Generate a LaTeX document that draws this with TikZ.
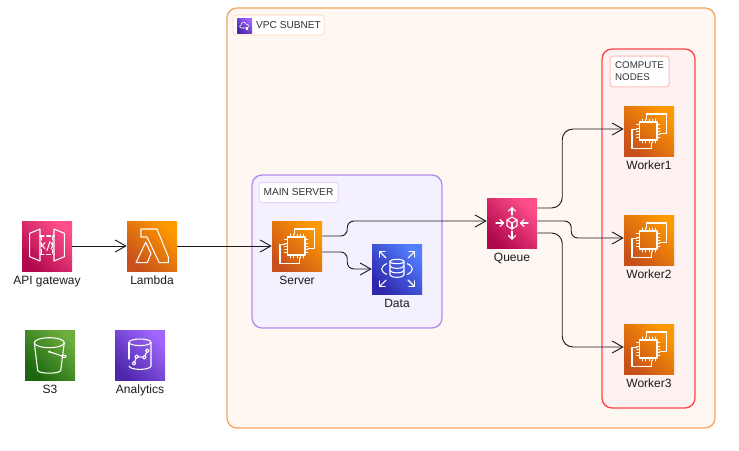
\documentclass[tikz,border=0pt]{standalone}
\usepackage{fontspec}
\setmainfont{Liberation Sans}
\usetikzlibrary{positioning,arrows.meta}

\definecolor{linecol}{HTML}{1A1A1A}
\definecolor{textcol}{HTML}{1A1A1A}
\definecolor{labelcol}{HTML}{333333}
\definecolor{orangelo}{HTML}{C8511B}
\definecolor{orangehi}{HTML}{FF9900}
\definecolor{pinklo}{HTML}{B0084D}
\definecolor{pinkhi}{HTML}{FF4F8B}
\definecolor{greenlo}{HTML}{1B660F}
\definecolor{greenhi}{HTML}{6CAE3E}
\definecolor{purplelo}{HTML}{4D27AA}
\definecolor{purplehi}{HTML}{A166FF}
\definecolor{bluelo}{HTML}{2E27AD}
\definecolor{bluehi}{HTML}{527FFF}
\definecolor{vpcline}{HTML}{F0A860}
\definecolor{vpcfill}{HTML}{FFF8F2}
\definecolor{vpclabel}{HTML}{FCE4CA}
\definecolor{mainline}{HTML}{B38CF0}
\definecolor{mainfill}{HTML}{F5F0FE}
\definecolor{mainlab}{HTML}{E2D4FA}
\definecolor{computeline}{HTML}{FF4646}
\definecolor{computefill}{HTML}{FDF1F1}
\definecolor{computelab}{HTML}{FFBEBE}

\tikzset{
  awsicon/.style={minimum size=37.5pt,inner sep=0pt,bottom color=#1lo,top color=#1hi,shading angle=-45},
  groupbox/.style={line width=1pt,rounded corners=7.5pt},
  iconlabel/.style={inner sep=0pt,text height=6.5pt,text depth=2pt,text=textcol,font=\fontsize{9}{10.5}\selectfont},
  grouplabel/.style={rounded corners=2pt,line width=.75pt,fill=white,text=labelcol,inner sep=0pt,font=\fontsize{7.6}{9}\selectfont},
  conn/.style={draw=linecol,line width=.7pt,-{Straight Barb[length=8pt,width=9pt,line width=.7pt]}},
  glyph/.style={draw=white,line width=.8pt,line join=round,line cap=round},
  chipglyph/.pic={
    \begin{scope}[shift={(-25,-25)},glyph]
    \draw (15.5,16) rectangle (33,34);
    \foreach \p in {18,21.5,25,28.5,31.5} {
      \draw[line width=.6pt] (\p,13) -- (\p,16);
      \draw[line width=.6pt] (\p,34) -- (\p,37);
    }
    \foreach \p in {18.5,22,25,28,31.5} {
      \draw[line width=.6pt] (12.5,\p) -- (15.5,\p);
      \draw[line width=.6pt] (33,\p) -- (36,\p);
    }
    \draw (22.7,13) -- (22.7,8) -- (42.3,8) -- (42.3,27.3) -- (36,27.3);
    \draw (13,23.3) -- (8,23.3) -- (8,42.3) -- (27.7,42.3) -- (27.7,37);
    \end{scope}
  },
  lambdaglyph/.pic={
    \begin{scope}[shift={(-25,-25)},glyph]
    \draw (14,8) -- (30,8) -- (41.3,36) -- (41.3,41.7) -- (32.3,41.7) -- (20,16) -- (14,16) -- cycle;
    \draw (9,41.7) -- (18.7,21.3) -- (24,32.5) -- (20.3,41.7) -- cycle;
    \end{scope}
  },
  apiglyph/.pic={
    \begin{scope}[shift={(-25,-25)},glyph]
    \draw (7.7,12.3) -- (18,8) -- (18,40) -- (7.7,35.7) -- cycle;
    \draw (42.3,12.3) -- (32,8) -- (32,40) -- (42.3,35.7) -- cycle;
    \draw[densely dashed] (18,15) -- (32,15);
    \draw[densely dashed] (18,33.3) -- (32,33.3);
    \draw[densely dashed] (19.5,15) -- (19.5,33.3);
    \draw[densely dashed] (30.5,15) -- (30.5,33.3);
    \draw (23,21.7) -- (20.3,24.7) -- (23,27.7);
    \draw (28,20.5) -- (25,29.5);
    \draw (29,21.7) -- (31,24.7) -- (29,27.7);
    \end{scope}
  },
  bucketglyph/.pic={
    \begin{scope}[shift={(-25,-25)},glyph]
    \draw (24.3,12.7) ellipse [x radius=15,y radius=5];
    \draw (9.3,12.7) -- (12.7,40.7) .. controls (15,44) and (33.4,44) .. (35.7,40.7) -- (39.3,12.7);
    \draw (24.3,21.7) -- (37,26);
    \fill[white] (24.3,21.7) circle (1.2);
    \draw (39,26.3) ellipse [x radius=2.2,y radius=1.2];
    \end{scope}
  },
  analyticsglyph/.pic={
    \begin{scope}[shift={(-25,-25)},glyph]
    \draw (25,12.3) ellipse [x radius=11,y radius=3.3];
    \draw (14,12.3) -- (14,29);
    \draw (14,36) .. controls (15,40.5) and (35,40.5) .. (36,36) -- (36,12.3);
    \draw (19,33.3) circle (1.8);
    \draw (21.7,26.7) circle (1.8);
    \draw (29.3,27.3) circle (1.8);
    \draw (32.3,20.7) circle (1.8);
    \draw (19.7,31.6) -- (21,28.4);
    \draw (23.5,26.8) -- (27.5,27.2);
    \draw (30,25.6) -- (31.6,22.4);
    \end{scope}
  },
  dataglyph/.pic={
    \begin{scope}[shift={(-25,-25)},glyph]
    \draw (25,17.5) ellipse [x radius=7,y radius=2.2];
    \draw (18,17.5) -- (18,31) .. controls (19,34.2) and (31,34.2) .. (32,31) -- (32,17.5);
    \draw (18,22) .. controls (19,25.2) and (31,25.2) .. (32,22);
    \draw (18,26.5) .. controls (19,29.7) and (31,29.7) .. (32,26.5);
    \draw (14.7,19.7) .. controls (8,22.5) and (8,27.5) .. (14.7,30.3);
    \draw (35.3,19.7) .. controls (42,22.5) and (42,27.5) .. (35.3,30.3);
    \draw (14,14) -- (7.5,7.5);
    \draw (7.5,13) -- (7.5,7.5) -- (13,7.5);
    \draw (36,14) -- (42.5,7.5);
    \draw (42.5,13) -- (42.5,7.5) -- (37,7.5);
    \draw (14,36) -- (7.5,42.5);
    \draw (7.5,37) -- (7.5,42.5) -- (13,42.5);
    \draw (36,36) -- (42.5,42.5);
    \draw (42.5,37) -- (42.5,42.5) -- (37,42.5);
    \end{scope}
  },
  queueglyph/.pic={
    \begin{scope}[shift={(-25,-25)},glyph]
    \draw (25,19) -- (30,22) -- (30,28) -- (25,31) -- (20,28) -- (20,22) -- cycle;
    \draw (20,22) -- (25,25) -- (30,22);
    \draw (25,25) -- (25,31);
    \draw (25,17) -- (25,9.7);
    \draw (21.5,13) -- (25,9.7) -- (28.5,13);
    \draw (25,33) -- (25,41);
    \draw (21.5,37.5) -- (25,41) -- (28.5,37.5);
    \draw (9,25) -- (16.5,25);
    \draw (13,21.5) -- (16.5,25) -- (13,28.5);
    \draw (41,25) -- (33.5,25);
    \draw (37,21.5) -- (33.5,25) -- (37,28.5);
    \end{scope}
  },
}

\begin{document}
\begin{tikzpicture}[x=.75pt,y=-.75pt]
\useasboundingbox (0,0) rectangle (739,450);

% groups
\draw[groupbox,draw=vpcline,fill=vpcfill] (227,8) rectangle (715,428);
\draw[groupbox,draw=mainline,fill=mainfill] (252,175) rectangle (442,328);
\draw[groupbox,draw=computeline,fill=computefill] (602,49) rectangle (695,408);

\node[grouplabel,draw=vpclabel,minimum width=68.25pt,minimum height=15pt] (vpctitle) at (278.5,25) {\hspace{15pt}VPC SUBNET};
\node[grouplabel,draw=mainlab,minimum width=59.25pt,minimum height=15pt] (maintitle) at (298.5,192.5) {MAIN SERVER};
\node[grouplabel,draw=computelab,minimum width=44.25pt,minimum height=23pt,align=left,font=\fontsize{7.3}{9}\selectfont] (computetitle) at (639.5,71.5) {COMPUTE\\NODES};

% vpc badge
\node[awsicon=purple,minimum size=11.25pt] (vpcbadge) at (244.5,25.5) {};
\begin{scope}[shift={(237,18)},glyph,line width=.4pt]
\draw (4,10) .. controls (2,10) and (2,7) .. (4,7) .. controls (4,4) and (8,3) .. (9,6) .. controls (11,5.5) and (13,8) .. (11,10) -- cycle;
\fill[white] (8.5,9) rectangle (11,12);
\end{scope}

% outside
\node[awsicon=pink] (api) at (47,246) {};
\node[awsicon=orange] (lambda) at (152,246) {};
\node[awsicon=green] (bucket) at (50,355) {};
\node[awsicon=purple] (analytics) at (140,355) {};

% vpc
\node[awsicon=orange] (server) at (297,246) {};
\node[awsicon=blue] (data) at (397,269) {};
\node[awsicon=pink] (queue) at (512,223) {};
\node[awsicon=orange] (worker1) at (649,131) {};
\node[awsicon=orange] (worker2) at (649,240) {};
\node[awsicon=orange] (worker3) at (649,349) {};

\pic at (api) {apiglyph};
\pic at (lambda) {lambdaglyph};
\pic at (bucket) {bucketglyph};
\pic at (analytics) {analyticsglyph};
\pic at (server) {chipglyph};
\pic at (data) {dataglyph};
\pic at (queue) {queueglyph};
\pic at (worker1) {chipglyph};
\pic at (worker2) {chipglyph};
\pic at (worker3) {chipglyph};

% labels
\node[iconlabel,below=3pt of api] (apilabel) {API gateway};
\node[iconlabel,below=3pt of lambda] (lambdalabel) {Lambda};
\node[iconlabel,below=3pt of bucket] (bucketlabel) {S3};
\node[iconlabel,below=3pt of analytics] (analyticslabel) {Analytics};
\node[iconlabel,below=3pt of server] (serverlabel) {Server};
\node[iconlabel,below=3pt of data] (datalabel) {Data};
\node[iconlabel,below=3pt of queue] (queuelabel) {Queue};
\node[iconlabel,below=3pt of worker1] (worker1label) {Worker1};
\node[iconlabel,below=3pt of worker2] (worker2label) {Worker2};
\node[iconlabel,below=3pt of worker3] (worker3label) {Worker3};

% connectors
\draw[conn] (api) -- (lambda);
\draw[conn] (lambda) -- (server);
\draw[conn,rounded corners=5pt] ([yshift=7.5pt]server.east) -- ++(25,0) |- ([yshift=1.5pt]queue.west);
\draw[conn,rounded corners=5pt] ([yshift=-4.5pt]server.east) -- ++(25,0) |- (data.west);
\draw[conn,rounded corners=8pt] ([yshift=11.25pt]queue.east) -- ++(25,0) |- ([yshift=1.5pt]worker1.west);
\draw[conn,rounded corners=5pt] ([yshift=1.5pt]queue.east) -- ++(34,0) |- ([yshift=1.5pt]worker2.west);
\draw[conn,rounded corners=8pt] ([yshift=-7.5pt]queue.east) -- ++(25,0) |- ([yshift=1.5pt]worker3.west);
\end{tikzpicture}
\end{document}
